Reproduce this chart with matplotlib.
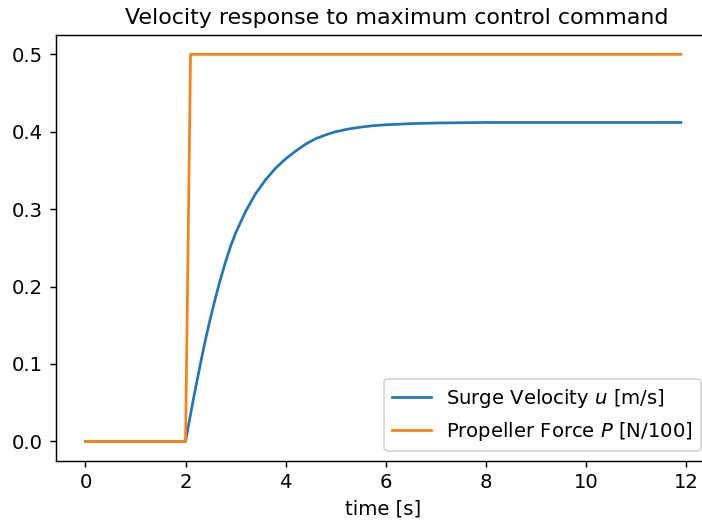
import numpy as np
import matplotlib
matplotlib.use("Agg")
import matplotlib.pyplot as plt

# simulated surge velocity u(t) [m/s]
t_u = [0.0, 2.0, 2.1, 2.2, 2.3, 2.4, 2.5, 2.6, 2.7, 2.8, 2.9, 3.0,
       3.2, 3.4, 3.6, 3.8, 4.0, 4.2, 4.4, 4.6, 4.8, 5.0, 5.25, 5.5,
       5.75, 6.0, 6.5, 7.0, 8.0, 11.9]
u = [0.0, 0.0, 0.035, 0.069, 0.101, 0.132, 0.160, 0.186, 0.210, 0.232, 0.252, 0.269,
     0.297, 0.320, 0.338, 0.353, 0.365, 0.375, 0.384, 0.391, 0.396, 0.400, 0.4035, 0.406,
     0.4078, 0.409, 0.4105, 0.4113, 0.412, 0.412]

# propeller force command, scaled by 1/100
t_P = [0.0, 2.0, 2.1, 11.9]
P = [0.0, 0.0, 0.5, 0.5]

plt.rcParams["font.size"] = 10.85

dpi = 130
fig = plt.figure(figsize=(702 / dpi, 528 / dpi), dpi=dpi)
ax = fig.add_axes([55.7 / 702, 1 - 460.7 / 528, 655 / 702, 425.7 / 528])

ax.plot(t_u, u, label=r"Surge Velocity $u$ [m/s]")
ax.plot(t_P, P, label=r"Propeller Force $P$ [N/100]")
ax.set_title("Velocity response to maximum control command", fontsize=12.25, x=0.52)
ax.set_xlabel("time [s]")
ax.set_xticks(np.arange(0, 13, 2))
ax.legend(loc="lower right")

fig.savefig("out.png", dpi=dpi)
